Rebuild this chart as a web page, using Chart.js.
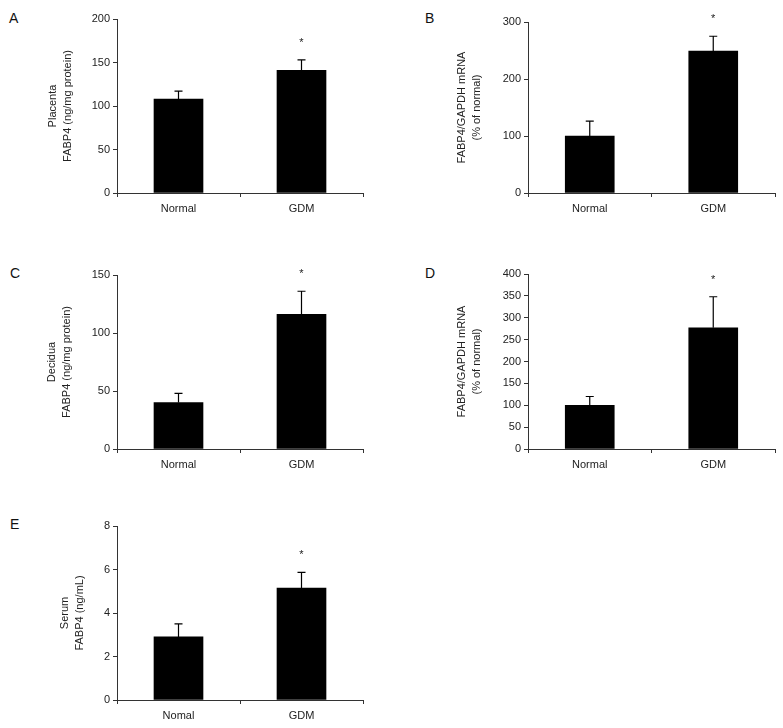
<!DOCTYPE html>
<html>
<head>
<meta charset="utf-8">
<script src="https://cdn.jsdelivr.net/npm/chart.js@4.4.1/dist/chart.umd.min.js"></script>
<style>
  body { margin: 0; background: #fff; }
  .page { position: relative; width: 783px; height: 728px; }
  .panel { position: absolute; width: 390px; height: 230px; }
  .letter {
    position: absolute;
    font: 14px "Liberation Sans", Arial, sans-serif;
    line-height: 1;
    color: #111;
  }
</style>
</head>
<body>
<div class="page">
  <div class="letter" style="left:9px;top:11px">A</div>
  <div class="letter" style="left:425px;top:11px">B</div>
  <div class="letter" style="left:10px;top:266px">C</div>
  <div class="letter" style="left:425px;top:266px">D</div>
  <div class="letter" style="left:10px;top:517px">E</div>
  <canvas id="chartA" class="panel" style="left:0;top:0"></canvas>
  <canvas id="chartB" class="panel" style="left:390px;top:0"></canvas>
  <canvas id="chartC" class="panel" style="left:0;top:255px"></canvas>
  <canvas id="chartD" class="panel" style="left:390px;top:255px"></canvas>
  <canvas id="chartE" class="panel" style="left:0;top:505px"></canvas>
</div>
<script>
// Data (mean and upper error)
const groups = ["Normal", "GDM"];
const groupsSerum = ["Nomal", "GDM"];
const significant = [false, true];

const placentaProtein = [108, 141];
const placentaProteinErr = [9, 12];

const placentaMrna = [100, 249];
const placentaMrnaErr = [26, 26];

const deciduaProtein = [40, 116];
const deciduaProteinErr = [8, 20];

const deciduaMrna = [100, 277];
const deciduaMrnaErr = [20, 71];

const serumProtein = [2.9, 5.15];
const serumProteinErr = [0.6, 0.72];

const FONT = "'Liberation Sans', Arial, sans-serif";
const FONT_SIZE = 11;
const AXIS_COLOR = "#333";
const TITLE_LINE = 15;

// upper error bars + asterisk over significant bars
const errorBars = {
  id: "errorBars",
  afterDatasetsDraw(chart, args, opts) {
    const ctx = chart.ctx;
    const yScale = chart.scales.y;
    const meta = chart.getDatasetMeta(0);
    const ds = chart.data.datasets[0];
    ctx.save();
    ctx.strokeStyle = "#000";
    ctx.lineWidth = 1.2;
    meta.data.forEach((bar, i) => {
      const top = yScale.getPixelForValue(ds.data[i] + opts.errors[i]);
      ctx.beginPath();
      ctx.moveTo(bar.x, bar.y);
      ctx.lineTo(bar.x, top);
      ctx.moveTo(bar.x - 4, top);
      ctx.lineTo(bar.x + 4, top);
      ctx.stroke();
      if (opts.stars[i]) {
        ctx.fillStyle = "#222";
        ctx.font = "11px " + FONT;
        ctx.textAlign = "center";
        ctx.textBaseline = "middle";
        ctx.fillText("*", bar.x, top - 17);
      }
    });
    ctx.restore();
  },
};

const makeChart = (id, cfg) => {
  const canvas = document.getElementById(id);
  const W = 390, H = 230;
  canvas.width = W;
  canvas.height = H;
  const padLeft = cfg.titleX - TITLE_LINE / 2;

  return new Chart(canvas.getContext("2d"), {
    type: "bar",
    data: {
      labels: cfg.labels,
      datasets: [
        {
          data: cfg.values,
          backgroundColor: "#000",
          borderWidth: 0,
          barThickness: 49,
        },
      ],
    },
    options: {
      responsive: false,
      animation: false,
      layout: {
        padding: { left: padLeft, top: cfg.area[1], right: W - cfg.area[2], bottom: 0 },
      },
      plugins: {
        legend: { display: false },
        tooltip: { enabled: false },
        errorBars: { errors: cfg.errors, stars: significant },
      },
      scales: {
        x: {
          offset: true,
          grid: {
            offset: true,
            drawOnChartArea: false,
            drawTicks: true,
            tickLength: 4,
            color: AXIS_COLOR,
          },
          border: { color: AXIS_COLOR, width: 1 },
          ticks: { color: "#222", font: { family: FONT, size: FONT_SIZE }, padding: 5 },
          afterFit: (s) => { s.height = H - cfg.area[3]; },
        },
        y: {
          min: 0,
          max: cfg.max,
          ticks: {
            stepSize: cfg.step,
            color: "#222",
            font: { family: FONT, size: FONT_SIZE },
            padding: 3,
          },
          grid: {
            drawOnChartArea: false,
            drawTicks: true,
            tickLength: 4,
            color: AXIS_COLOR,
          },
          border: { color: AXIS_COLOR, width: 1 },
          title: {
            display: true,
            text: cfg.title,
            color: "#222",
            font: { family: FONT, size: FONT_SIZE, lineHeight: TITLE_LINE / FONT_SIZE },
            padding: 0,
          },
          afterFit: (s) => { s.width = cfg.area[0] - padLeft; },
        },
      },
    },
    plugins: [errorBars],
  });
};

makeChart("chartA", {
  labels: groups,
  values: placentaProtein,
  errors: placentaProteinErr,
  max: 200, step: 50,
  title: ["Placenta", "FABP4 (ng/mg protein)"],
  area: [117, 19, 363, 193],
  titleX: 53,
});

makeChart("chartB", {
  labels: groups,
  values: placentaMrna,
  errors: placentaMrnaErr,
  max: 300, step: 100,
  title: ["FABP4/GAPDH mRNA", "(% of normal)"],
  area: [138, 22, 385, 193],
  titleX: 72,
});

makeChart("chartC", {
  labels: groups,
  values: deciduaProtein,
  errors: deciduaProteinErr,
  max: 150, step: 50,
  title: ["Decidua", "FABP4 (ng/mg protein)"],
  area: [117, 20, 363, 194],
  titleX: 52,
});

makeChart("chartD", {
  labels: groups,
  values: deciduaMrna,
  errors: deciduaMrnaErr,
  max: 400, step: 50,
  title: ["FABP4/GAPDH mRNA", "(% of normal)"],
  area: [138, 19, 385, 194],
  titleX: 72,
});

makeChart("chartE", {
  labels: groupsSerum,
  values: serumProtein,
  errors: serumProteinErr,
  max: 8, step: 2,
  title: ["Serum", "FABP4 (ng/mL)"],
  area: [117, 21, 363, 195],
  titleX: 65,
});
</script>
</body>
</html>
